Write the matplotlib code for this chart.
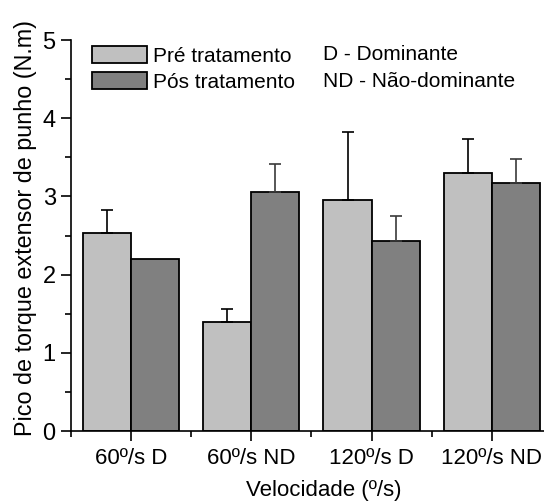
#!/usr/bin/env python3
import numpy as np
import matplotlib
matplotlib.use("Agg")
import matplotlib.pyplot as plt
from matplotlib.patches import Patch
from matplotlib.ticker import MultipleLocator

categorias = ["60º/s D", "60º/s ND", "120º/s D", "120º/s ND"]
pre = [2.53, 1.40, 2.96, 3.30]          # pre tratamento
pre_err = [0.30, 0.16, 0.86, 0.43]
pos = [2.20, 3.06, 2.43, 3.17]          # pos tratamento
pos_err = [0.0, 0.35, 0.32, 0.31]
nomes = ["Pré tratamento", "Pós tratamento"]
notas = ["D - Dominante", "ND - Não-dominante"]


def plot_barras():
    plt.rcParams['font.family'] = ['Liberation Sans', 'DejaVu Sans']
    plt.rcParams['font.size'] = 15
    fig = plt.figure(figsize=(5.44, 5.01), dpi=100)
    ax = fig.add_axes([0.1305, 0.1397, 0.884, 0.7804])
    x = np.arange(len(categorias))
    w = 0.4
    ax.bar(x - w/2, pre, w, color="#c0c0c0", edgecolor="black", linewidth=1.3)
    ax.bar(x + w/2, pos, w, color="#808080", edgecolor="black", linewidth=1.3)
    ax.errorbar(x - w/2, pre, yerr=[np.zeros(4), pre_err], fmt="none",
                ecolor="black", elinewidth=1.2, capsize=4, capthick=1.2)
    err_ok = [e > 0 for e in pos_err]
    ax.errorbar((x + w/2)[err_ok], np.array(pos)[err_ok],
                yerr=[np.zeros(sum(err_ok)), np.array(pos_err)[err_ok]],
                fmt="none", ecolor="#3a3a3a", elinewidth=1.2, capsize=4, capthick=1.2)
    ax.set_xlim(-0.5, 3.5)
    ax.set_ylim(0, 5)
    ax.set_xticks(x)
    ax.set_xticklabels(categorias, fontsize=16)
    ax.xaxis.set_minor_locator(MultipleLocator(1.0, offset=0.5))
    ax.yaxis.set_major_locator(MultipleLocator(1))
    ax.yaxis.set_minor_locator(MultipleLocator(0.5))
    ax.tick_params(axis="y", labelsize=17, pad=4)
    ax.tick_params(axis="x", pad=5)
    ax.tick_params(which="major", length=7, width=1.2, direction="out")
    ax.tick_params(which="minor", length=4, width=1.2, direction="out")
    for s in ("left", "bottom"):
        ax.spines[s].set_linewidth(1.2)
    ax.spines["right"].set_visible(False)
    ax.spines["top"].set_visible(False)
    ax.set_ylabel("Pico de torque extensor de punho (N.m)", fontsize=16.8, va="center")
    ax.yaxis.set_label_coords(-0.095, 0.52)
    ax.set_xlabel("Velocidade (º/s)", fontsize=16, va="center")
    ax.xaxis.set_label_coords(0.525, -0.151)
    handles = [Patch(facecolor="#c0c0c0", edgecolor="black", linewidth=1.3),
               Patch(facecolor="#808080", edgecolor="black", linewidth=1.3)]
    ax.legend(handles, nomes, loc="upper left", bbox_to_anchor=(0.043, 0.985),
              frameon=False, handlelength=2.64, handleheight=0.87,
              handletextpad=0.3, labelspacing=0.32, borderpad=0,
              borderaxespad=0, fontsize=15)
    ax.text(0.524, 0.962, notas[0], transform=ax.transAxes, va="center", fontsize=15)
    ax.text(0.524, 0.893, notas[1], transform=ax.transAxes, va="center", fontsize=15)
    fig.savefig("out.png")


if __name__ == "__main__":
    plot_barras()
